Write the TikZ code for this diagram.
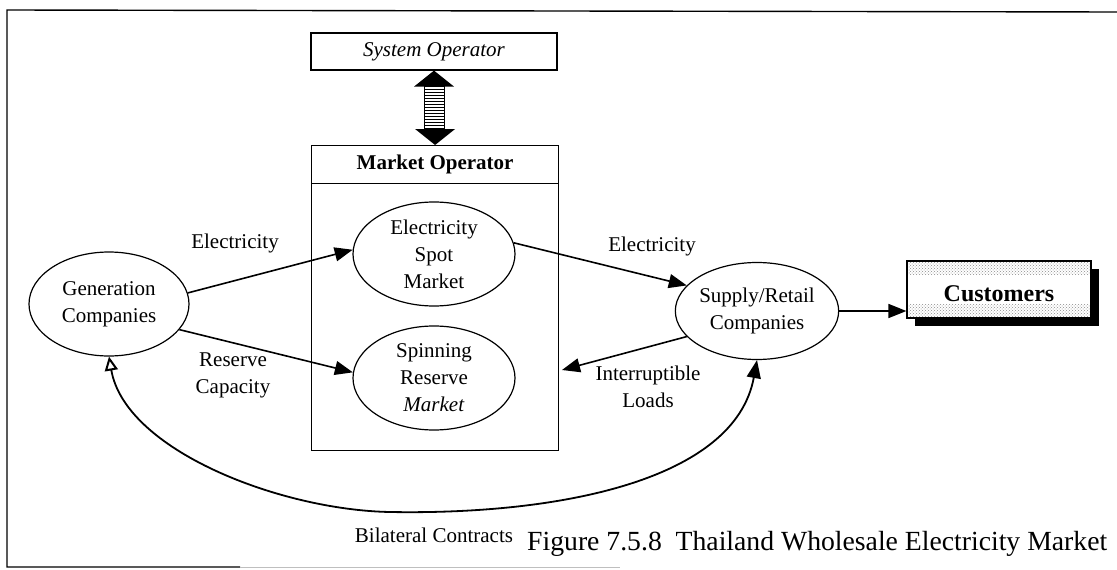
\documentclass[tikz,border=0pt]{standalone}
\usepackage{fontspec}
\setmainfont{Liberation Serif}
\usetikzlibrary{arrows.meta,shapes.geometric,patterns,calc,shadows}
\begin{document}
\begin{tikzpicture}[x=1pt,y=-1pt,
  lbl/.style={font=\fontsize{21}{27}\selectfont, align=center},
  oval/.style={draw, ellipse, line width=1.2pt, inner sep=0pt, align=center, font=\fontsize{21}{27}\selectfont},
  flow/.style={line width=1.6pt, -{Triangle[length=18pt,width=14pt]}},
  boxed/.style={draw, line width=1.2pt, inner sep=0pt}
]
\useasboundingbox (0,0) rectangle (1117,570);
% outer frame
\draw[line width=1.4pt] (1117,12) -- (7,10) -- (7,567) -- (240,567);
\draw[line width=1pt, gray!50] (240,567) -- (620,567);

% system operator
\node[boxed, minimum width=246pt, minimum height=37pt, font=\itshape\fontsize{21}{27}\selectfont] (so) at (434,51.5) {System Operator};

% market operator
\node[boxed, minimum width=247pt, minimum height=305pt, anchor=north west] (mo) at (311,145) {};
\node[boxed, minimum width=247pt, minimum height=38pt, anchor=north, font=\bfseries\fontsize{21}{27}\selectfont] (mohead) at (mo.north) {Market Operator};

% double arrow
\path (so.south) coordinate (da1) (mohead.north) coordinate (da2);
\fill (da1) -- ++(20,16) -- ++(-40,0) -- cycle;
\fill (da2) -- ++(20,-16) -- ++(-40,0) -- cycle;
\draw[line width=1pt, pattern=horizontal lines] ($(da1)+(-9.5,16)$) rectangle ($(da2)+(9.5,-16)$);

% ellipses
\node[oval, minimum width=162pt, minimum height=104pt] (spot) at (434,254) {Electricity\\Spot\\Market};
\node[oval, minimum width=162pt, minimum height=104pt] (spin) at (434,378) {Spinning\\Reserve\\\textit{Market}};
\node[oval, minimum width=160pt, minimum height=104pt] (gen) at (109,304) {Generation\\Companies};
\node[oval, minimum width=161pt, minimum height=97pt] (sup) at (757,311) {Supply/Retail\\Companies};

% customers
\node[boxed, fill=white, minimum width=184pt, minimum height=57pt,
  drop shadow={shadow xshift=8pt, shadow yshift=-8pt, fill=black, opacity=1}] (cust) at (999,289.5) {};
\fill[pattern=crosshatch dots, pattern color=gray!90] ($(cust.north west)+(1,1)$) rectangle ($(cust.north east)+(-1,14)$);
\fill[pattern=crosshatch dots, pattern color=gray!90] ($(cust.south west)+(1,-14)$) rectangle ($(cust.south east)+(-1,-1)$);
\node[boxed, minimum width=184pt, minimum height=57pt] at (cust.center) {};
\node[font=\bfseries\fontsize{24}{28}\selectfont] (custtxt) at ($(cust.center)+(0,4)$) {Customers};

% connectors
\draw[flow] (gen.8) -- (spot.177);
\draw[flow] (gen.-20) -- (spin.176);
\draw[flow] (spot.8) -- (sup.160);
\coordinate (il) at (562,370);
\draw[flow] (sup.200) -- (il);
\draw[flow] (sup.east) -- (sup.east -| cust.west);
\coordinate (bl) at (390,512);
\draw[line width=1.8pt, {Triangle[open,length=14pt,width=13pt,line width=2pt]}-{Triangle[length=18pt,width=14pt]}]
  (gen.south) .. controls (125,450) and (280,510) .. (bl)
  .. controls (560,515) and (735,480) .. (sup.south);

% labels
\node[lbl] (l1) at (235,243) {Electricity};
\node[lbl] (l2) at (233,375) {Reserve\\Capacity};
\node[lbl] (l3) at (652,246) {Electricity};
\node[lbl] (l4) at (648,387) {Interruptible\\Loads};
\node[font=\fontsize{21}{27}\selectfont, anchor=base] (l5) at (434,542) {Bilateral Contracts};
\node[font=\fontsize{27.7}{32}\selectfont, anchor=base west, inner sep=0pt] (cap) at (527,550) {Figure 7.5.8\ \ Thailand Wholesale Electricity Market};
\end{tikzpicture}
\end{document}
